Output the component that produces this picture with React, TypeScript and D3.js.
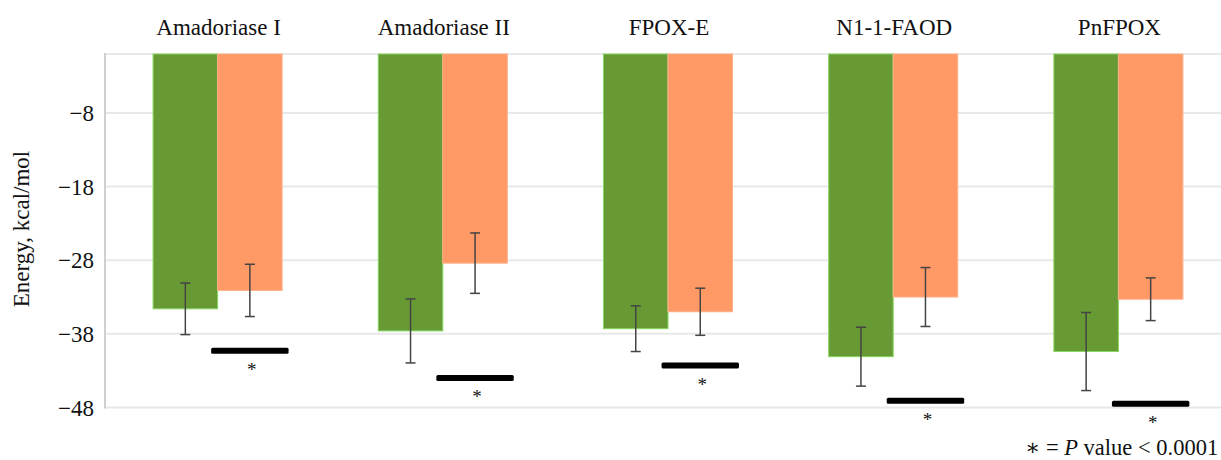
import React from "react";
import * as d3 from "d3";

const categories = ["Amadoriase I", "Amadoriase II", "FPOX-E", "N1-1-FAOD", "PnFPOX"];
const greenValues = [-34.6, -37.6, -37.3, -41.1, -40.4];
const greenErrors = [3.5, 4.35, 3.1, 4.0, 5.3];
const orangeValues = [-32.1, -28.4, -35.0, -33.0, -33.3];
const orangeErrors = [3.55, 4.1, 3.2, 4.0, 2.9];
const sigLevels = [-40.3, -44.0, -42.3, -47.1, -47.5];
const tickValues = [-8, -18, -28, -38, -48];
const gridValues = [0, -8, -18, -28, -38, -48];

const W = 1221;
const H = 460;
const FONT = "Liberation Serif, DejaVu Serif, Times New Roman, serif";

export default function App() {
  const x = d3.scaleBand<string>().domain(categories).range([105, 1231]).paddingInner(0.427).paddingOuter(0.2135);
  const sub = d3.scaleBand<string>().domain(["g", "o"]).range([0, x.bandwidth()]).padding(0);
  const y = d3.scaleLinear().domain([-48, 0]).range([407.5, 54]);
  const fmt = (v: number) => (v < 0 ? "\u2212" + Math.abs(v) : String(v));
  const capW = 10;

  return (
    <svg width={W} height={H} style={{ position: "absolute", left: 0, top: 0, background: "#fff", fontFamily: FONT }}>
      {gridValues.map((v) => (
        <line key={"g" + v} x1={105} x2={W} y1={y(v)} y2={y(v)} stroke="#e8e8e8" strokeWidth={2} />
      ))}
      <line x1={105} x2={105} y1={y(0) - 1} y2={y(-48) + 1} stroke="#cfcfcf" strokeWidth={2} />
      {tickValues.map((v) => (
        <text key={"t" + v} x={94} y={y(v)} dy="0.35em" textAnchor="end" fontSize={23} fill="#111" style={{ fontFamily: FONT }}>
          {fmt(v)}
        </text>
      ))}
      <text transform={`translate(29,229) rotate(-90)`} textAnchor="middle" fontSize={23} fill="#111" style={{ fontFamily: FONT }}>
        Energy, kcal/mol
      </text>
      {categories.map((c, i) => {
        const x0 = x(c)!;
        const gx = x0 + sub("g")!;
        const ox = x0 + sub("o")!;
        const bw = sub.bandwidth();
        const gc = gx + bw / 2;
        const oc = ox + bw / 2;
        const sigW = x.bandwidth() * 0.6;
        return (
          <g key={c}>
            <text x={x0 + x.bandwidth() / 2 + 1} y={35} textAnchor="middle" fontSize={23} fill="#111" style={{ fontFamily: FONT }}>
              {c}
            </text>
            <rect x={gx} y={y(0)} width={bw} height={y(greenValues[i]) - y(0)} fill="#679a34" stroke="#86d65f" strokeWidth={1} />
            <rect x={ox} y={y(0)} width={bw} height={y(orangeValues[i]) - y(0)} fill="#ff9966" stroke="#ffb08a" strokeWidth={1} />
            {[
              [gc, greenValues[i], greenErrors[i]],
              [oc, orangeValues[i], orangeErrors[i]],
            ].map(([cx, v, e], k) => (
              <g key={k} stroke="#444" strokeWidth={1.5}>
                <line x1={cx} x2={cx} y1={y(v + e)} y2={y(v - e)} />
                <line x1={cx - capW / 2} x2={cx + capW / 2} y1={y(v + e)} y2={y(v + e)} />
                <line x1={cx - capW / 2} x2={cx + capW / 2} y1={y(v - e)} y2={y(v - e)} />
              </g>
            ))}
            <rect x={oc - sigW / 2} y={y(sigLevels[i]) - 3} width={sigW} height={6} rx={1.5} fill="#000" />
            <text x={oc + 2} y={y(sigLevels[i]) + 25} textAnchor="middle" fontSize={19} fill="#111" style={{ fontFamily: FONT }}>
              *
            </text>
          </g>
        );
      })}
      <text x={1025} y={455} fontSize={22.5} fill="#111" style={{ fontFamily: FONT }}>
        {"\u2217 = "}
        <tspan fontStyle="italic">P</tspan>
        {" value < 0.0001"}
      </text>
    </svg>
  );
}
